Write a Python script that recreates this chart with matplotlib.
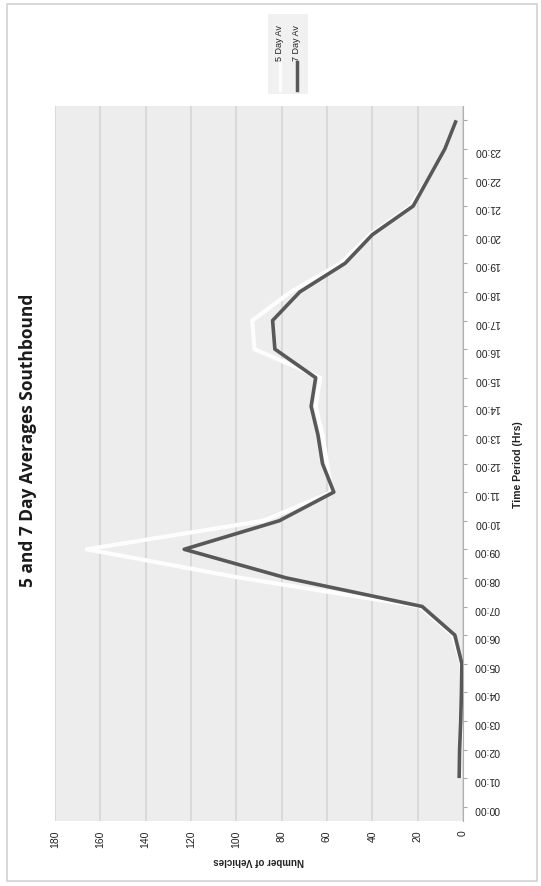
import numpy as np
import matplotlib.pyplot as plt
from matplotlib.patches import Rectangle

# Categorias del eje de tiempo (la ultima sin etiqueta)
horas = ['00:00', '01:00', '02:00', '03:00', '04:00', '05:00', '06:00', '07:00',
         '08:00', '09:00', '10:00', '11:00', '12:00', '13:00', '14:00', '15:00',
         '16:00', '17:00', '18:00', '19:00', '20:00', '21:00', '22:00', '23:00', '']

# Promedios (primera categoria sin dato)
dia5 = [np.nan, 1.5, 1.2, 0.8, 0.6, 0.7, 4.5, 19, 98, 166, 88, 58, 60, 62, 65,
        63, 92, 93, 76, 54, 41, 23, 15, 8, 3]
dia7 = [np.nan, 1.7, 1.5, 1.0, 0.7, 0.5, 3.6, 18, 78, 123, 81, 57, 62, 64, 67,
        65, 83, 84, 72, 52, 40, 22, 15, 8, 3]

ticks_veh = [0, 20, 40, 60, 80, 100, 120, 140, 160, 180]

pos = np.arange(len(horas))

fig = plt.figure(figsize=(5.41, 8.87), dpi=100)
fig.patch.set_facecolor('white')

# marco del area del grafico
fig.add_artist(Rectangle((7/541, 5/887), 530/541, 877/887, transform=fig.transFigure,
                         fill=False, edgecolor='#d2d2d2', linewidth=1.2))

ax = fig.add_axes([55/541, 65/887, 408/541, 715/887])
ax.set_facecolor('#ededed')

# el grafico esta girado: vehiculos en horizontal, hora en vertical
ax.plot(dia5, pos, color='#fdfdfd', linewidth=3.0, solid_capstyle='butt', zorder=3)
ax.plot(dia7, pos, color='#585858', linewidth=2.6, solid_capstyle='butt', zorder=4)

ax.set_xlim(180, 0)
ax.set_ylim(-0.5, len(horas) - 0.5)
ax.set_xticks(ticks_veh)
ax.set_xticklabels([str(t) for t in ticks_veh], rotation=90, fontsize=7.5,
                   family='Liberation Sans', color='#222222')
ax.tick_params(axis='x', length=0, pad=6)
ax.xaxis.grid(True, color='#d6d6d6', linewidth=1.2)
ax.set_axisbelow(True)

ax.yaxis.tick_right()
ax.set_yticks(pos)
ax.set_yticklabels(horas, rotation=180, fontsize=7.5, family='Liberation Sans',
                   color='#222222')
ax.tick_params(axis='y', length=3, color='#aaaaaa', pad=5)
ax.yaxis.set_label_position('right')
ax.set_ylabel('Time Period (Hrs)', rotation=90, fontsize=7.5, fontweight='bold',
              family='Liberation Sans', color='#222222', labelpad=9)
ax.set_xlabel('Number of Vehicles', rotation=180, fontsize=7, fontweight='bold',
              family='Liberation Sans', color='#222222', labelpad=6)

for s in ['top', 'left', 'bottom']:
    ax.spines[s].set_visible(False)
ax.spines['right'].set_color('#b0b0b0')
ax.spines['right'].set_linewidth(0.8)

fig.text(28/541, 1 - 440/887, '5 and 7 Day Averages Southbound', rotation=90,
         ha='center', va='center', fontsize=12.5, fontweight='bold',
         family='Open Sans', color='#1a1a1a')

# leyenda girada
lg = fig.add_axes([268/541, 1 - 95/887, 40/541, 80/887])
lg.set_facecolor('#f1f1f1')
lg.set_xlim(0, 1)
lg.set_ylim(0, 1)
lg.set_xticks([])
lg.set_yticks([])
for s in lg.spines.values():
    s.set_visible(False)
lg.plot([0.3, 0.3], [0.05, 0.4], color='#fdfdfd', linewidth=2.5)
lg.plot([0.72, 0.72], [0.05, 0.4], color='#585858', linewidth=2.5)
lg.text(0.3, 0.42, '5 Day Av', rotation=90, ha='center', va='bottom', fontsize=6.5,
        family='Liberation Sans', color='#222222')
lg.text(0.72, 0.42, '7 Day Av', rotation=90, ha='center', va='bottom', fontsize=6.5,
        family='Liberation Sans', color='#222222')

fig.savefig('out.png', dpi=100)
